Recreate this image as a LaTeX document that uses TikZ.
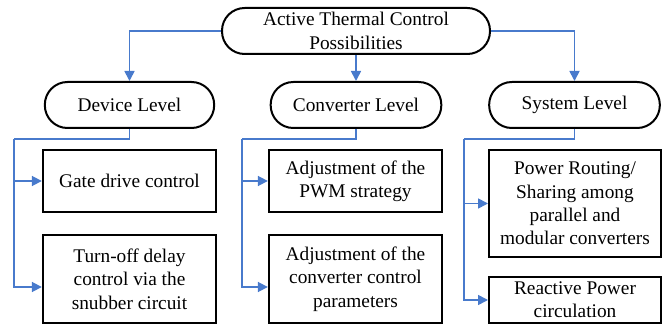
\documentclass[tikz,border=0pt]{standalone}
\usepackage{fontspec}
\setmainfont{Liberation Serif}
\usetikzlibrary{arrows.meta}
\definecolor{lineblue}{RGB}{72,122,204}
\tikzset{
  pill/.style={draw=black, line width=1.5pt, rounded corners=17pt, align=center,
    inner sep=0pt, font=\fontsize{14.5}{17.5}\selectfont},
  boxnode/.style={draw=black, line width=1.5pt, align=center, inner sep=0pt,
    font=\fontsize{14.5}{17.5}\selectfont},
  link/.style={draw=lineblue, line width=1.3pt},
  arr/.style={link, -{Triangle[length=7.5pt,width=7.5pt]}}
}
\begin{document}
\begin{tikzpicture}[x=0.75pt,y=-0.75pt]
\useasboundingbox (0,0) rectangle (672,324);
\node[pill, minimum width=201pt, minimum height=34.5pt] (top) at (356,31) {Active Thermal Control\\Possibilities};
\node[pill, minimum width=127pt, minimum height=34.5pt] (dev) at (129.5,105) {Device Level};
\node[pill, minimum width=128pt, minimum height=34.5pt] (conv) at (356,105) {Converter Level};
\node[pill, minimum width=128pt, minimum height=34.5pt] (sys) at (574.5,105) {System Level};
\node[boxnode, minimum width=130pt, minimum height=46.5pt] (gate) at (129.5,181) {Gate drive control};
\node[boxnode, minimum width=130pt, minimum height=66pt] (turn) at (129.5,279) {Turn-off delay\\control via the\\snubber circuit};
\node[boxnode, minimum width=130pt, minimum height=46.5pt] (pwm) at (355.5,181) {Adjustment of the\\PWM strategy};
\node[boxnode, minimum width=130pt, minimum height=66pt] (par) at (355.5,279) {Adjustment of the\\converter control\\parameters};
\node[boxnode, minimum width=129pt, minimum height=80pt] (pr) at (575,203.5) {Power Routing/\\Sharing among\\parallel and\\modular converters};
\node[boxnode, minimum width=129pt, minimum height=34.5pt] (rp) at (575,300) {Reactive Power\\circulation};
\coordinate (dl) at (14,139);
\coordinate (cl) at (242,139);
\coordinate (sl) at (464,139);
\draw[arr] (top.west) -| (dev.north);
\draw[arr] (top.south) -- (conv.north);
\draw[arr] (top.east) -| (sys.north);
\draw[link] (dev.south) |- (dl);
\draw[arr] (dl) |- (gate.west);
\draw[arr] (dl) |- ([yshift=-6pt]turn.west);
\draw[link] (conv.south) |- (cl);
\draw[arr] (cl) |- (pwm.west);
\draw[arr] (cl) |- ([yshift=-6pt]par.west);
\draw[link] (sys.south) |- (sl);
\draw[arr] (sl) |- (pr.west);
\draw[arr] (sl) |- (rp.west);
\end{tikzpicture}
\end{document}
